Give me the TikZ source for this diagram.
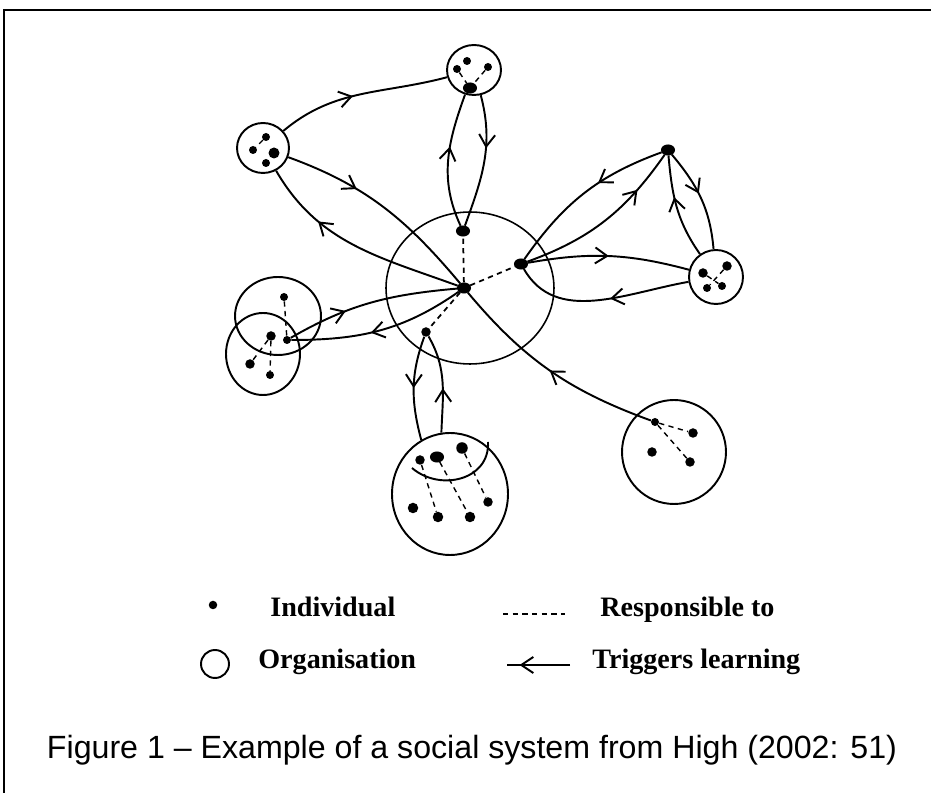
\documentclass[tikz,border=0pt]{standalone}
\usepackage{fontspec}
\setmainfont{Liberation Serif}
\newfontfamily\capfont{Liberation Sans}
\usepackage{tikz}
\usetikzlibrary{shapes.geometric,decorations.markings,arrows.meta}

\tikzset{
  org/.style={draw, ellipse, line width=1.1pt, inner sep=0pt},
  indiv/.style={circle, fill=black, inner sep=0pt, minimum size=1.6mm},
  keyind/.style={ellipse, fill=black, draw=black, line width=0.6pt, inner sep=0pt, minimum width=2.6mm, minimum height=2mm},
  resp/.style={dash pattern=on 3pt off 2.5pt, line width=1pt},
  trig/.style={line width=1.1pt, postaction={decorate}, decoration={markings, mark=at position #1 with {\arrow{Straight Barb[length=2.4mm, width=3.2mm]}}}},
  trig/.default=0.5,
  legtext/.style={font=\bfseries\fontsize{16}{19}\selectfont, anchor=west, inner sep=0pt},
}

\begin{document}
\begin{tikzpicture}[x=0.02cm, y=-0.02cm]
    \useasboundingbox (0,0) rectangle (931,793);
    \draw[line width=1.2pt] (4,793) -- (4,10) -- (931,10);

    % organisations
    \node[org, line width=0.9pt, minimum width=3.36cm, minimum height=3.04cm] (sys) at (470,288) {};
    \node[org, minimum width=1.08cm, minimum height=1cm] (otop) at (474,70) {};
    \node[org, minimum width=1.04cm, minimum height=1cm] (oul) at (263,148) {};
    \node[org, minimum size=1.08cm] (oright) at (716,277) {};
    \node[org, minimum width=1.72cm, minimum height=1.56cm] (olefta) at (278,316) {};
    \node[org, minimum width=1.48cm, minimum height=1.64cm] (oleftb) at (263,354) {};
    \node[org, minimum width=2.32cm, minimum height=2.44cm] (obot) at (450,494) {};
    \node[org, minimum size=2.08cm] (olr) at (674,452) {};
    \draw[line width=1.1pt] (412,468) .. controls (440,492) and (490,480) .. (488,442);

    % individuals
    \node[keyind] (hub) at (464,288) {};
    \node[keyind] (iup) at (463,231) {};
    \node[keyind] (iright) at (521,264) {};
    \node[indiv, minimum size=1.9mm] (ilow) at (426,332) {};
    \node[keyind] (iur) at (668,150) {};

    \node[indiv] (t1) at (457,69) {};
    \node[indiv] (t2) at (467,61) {};
    \node[indiv] (t3) at (488,67) {};
    \node[keyind] (t4) at (470,88) {};
    \node[indiv] (u1) at (266,137) {};
    \node[indiv] (u2) at (253,150) {};
    \node[indiv, minimum size=2.2mm] (u3) at (274,153) {};
    \node[indiv] (u4) at (266,163) {};
    \node[indiv, minimum size=1.9mm] (r1) at (703,273) {};
    \node[indiv, minimum size=1.9mm] (r2) at (727,266) {};
    \node[indiv] (r3) at (707,288) {};
    \node[indiv] (r4) at (722,286) {};
    \node[indiv] (l1) at (284,297) {};
    \node[indiv, minimum size=1.9mm] (l2) at (271,336) {};
    \node[indiv] (l3) at (287,340) {};
    \node[indiv, minimum size=1.9mm] (l4) at (250,364) {};
    \node[indiv] (l5) at (270,375) {};
    \node[indiv, minimum size=1.9mm] (b1) at (420,460) {};
    \node[keyind] (b2) at (437,457) {};
    \node[indiv, minimum size=2.3mm] (b3) at (462,448) {};
    \node[indiv, minimum size=1.9mm] (b4) at (488,502) {};
    \node[indiv, minimum size=2.1mm] (b5) at (413,508) {};
    \node[indiv, minimum size=2.1mm] (b6) at (438,517) {};
    \node[indiv, minimum size=2.1mm] (b7) at (470,517) {};
    \node[indiv] (q1) at (655,422) {};
    \node[indiv, minimum size=1.9mm] (q2) at (693,433) {};
    \node[indiv, minimum size=1.9mm] (q3) at (652,452) {};
    \node[indiv, minimum size=1.9mm] (q4) at (690,462) {};

    % responsible to
    \draw[resp] (hub) -- (iup);
    \draw[resp] (hub) -- (iright);
    \draw[resp] (hub) -- (ilow);
    \draw[resp, line width=0.8pt] (t1) -- (t4);
    \draw[resp, line width=0.8pt] (t3) -- (t4);
    \draw[resp, line width=0.8pt] (u1) -- (u2);
    \draw[resp, line width=0.8pt] (r1) -- (r4);
    \draw[resp, line width=0.8pt] (r2) -- (r3);
    \draw[resp, line width=0.8pt] (l1) -- (l3);
    \draw[resp, line width=0.8pt] (l2) -- (l5);
    \draw[resp, line width=0.8pt] (l2) -- (l4);
    \draw[resp, line width=0.8pt] (b1) -- (b6);
    \draw[resp, line width=0.8pt] (b2) -- (b7);
    \draw[resp, line width=0.8pt] (b3) -- (b4);
    \draw[resp, line width=0.8pt] (q1) -- (q2);
    \draw[resp, line width=0.8pt] (q1) -- (q4);

    % triggers learning
    \draw[trig=0.45] (oul) to[out=40,in=195] (otop);
    \draw[trig=0.6] (iup) to[out=115,in=250] (otop);
    \draw[trig=0.4] (otop) to[out=-75,in=70] (iup);
    \draw[trig=0.35] (oul) to[out=-20,in=130] (hub);
    \draw[trig=0.7] (hub) to[out=160,in=-60] (oul);
    \draw[trig=0.4] (iur) to[out=200,in=55] (iright);
    \draw[trig=0.75] (iright) to[out=20,in=235] (iur);
    \draw[trig=0.6] (oright) to[out=125,in=-85] (iur);
    \draw[trig=0.45] (iur) to[out=-50,in=95] (oright);
    \draw[trig=0.5] (iright) to[out=10,in=165] (oright);
    \draw[trig=0.45] (oright) to[out=190,in=-60] (iright);
    \draw[trig=0.5] (q1) to[out=160,in=-50] (hub);
    \draw[trig=0.35] (l3) to[out=30,in=185] (hub);
    \draw[trig=0.55] (hub) to[out=215,in=0] (l3);
    \draw[trig=0.5] (ilow) to[out=250,in=105] (obot.118);
    \draw[trig=0.45] (obot.98) to[out=88,in=-60] (ilow);

    % legend
    \node[indiv, minimum size=1.7mm] (legind) at (213,605) {};
    \node[legtext] (tind) at (270,607) {Individual};
    \coordinate (respA) at (503,614);
    \coordinate (respB) at (565,614);
    \draw[resp] (respA) -- (respB);
    \node[legtext] (tresp) at (600,610) {Responsible to};
    \node[org, minimum size=0.56cm] (legorg) at (215,664) {};
    \node[legtext] (torg) at (258,662) {Organisation};
    \coordinate (trigA) at (570,665);
    \coordinate (trigB) at (507,665);
    \draw[trig=0.8] (trigA) -- (trigB);
    \node[legtext] (ttrig) at (592,662) {Triggers learning};

    \node[font=\capfont\fontsize{18.3}{22}\selectfont] (caption) at (472,750) {Figure 1 – Example of a social system from High (2002: 51)};
\end{tikzpicture}
\end{document}
